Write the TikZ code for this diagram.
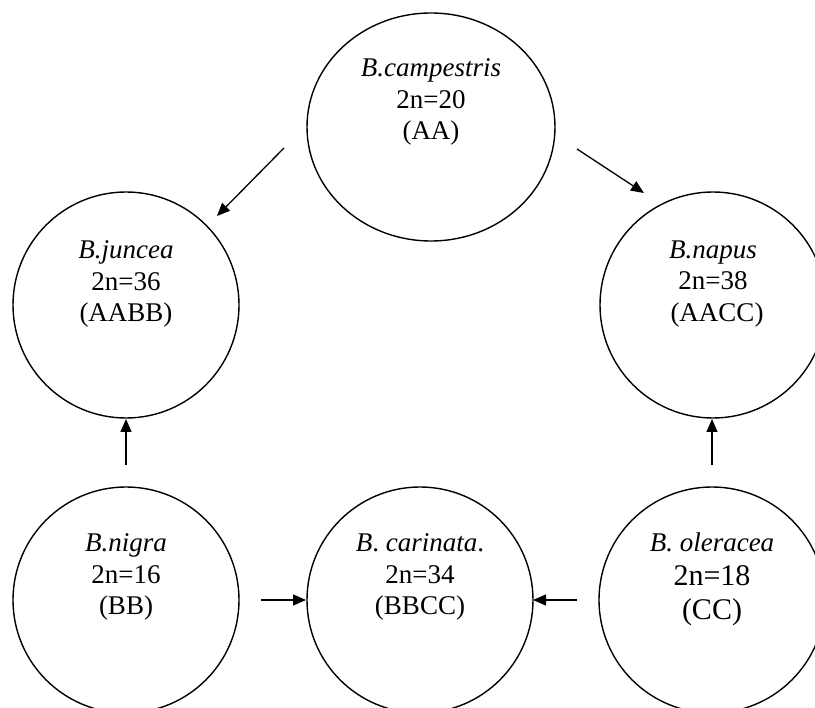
\documentclass[tikz,border=0pt]{standalone}
\usepackage{fontspec}
\setmainfont{Liberation Serif}
\usetikzlibrary{arrows.meta,shapes.geometric}
\begin{document}
\begin{tikzpicture}[x=1pt,y=-1pt,
  org/.style={draw,circle,line width=1.4pt,minimum size=226pt,inner sep=0pt},
  txt/.style={align=center,font=\fontsize{27}{31.5}\selectfont,inner sep=0pt},
  arr/.style={line width=1.3pt,-{Triangle[length=13pt,width=11pt]}}]
\useasboundingbox (0,0) rectangle (815,708);
% nodes
\node[draw,ellipse,line width=1.4pt,minimum width=248pt,minimum height=228pt,inner sep=0pt] (camp) at (431,127) {};
\node[org] (junc) at (126,305) {};
\node[org] (napu) at (713,305) {};
\node[org] (nigr) at (126,600) {};
\node[org] (cari) at (420,600) {};
\node[org] (oler) at (712,600) {};
% texts
\node[txt] (tcamp) at ([yshift=25pt]camp.center) {\textit{B.campestris}\\2n=20\\(AA)};
\node[txt] (tjunc) at ([yshift=21pt]junc.center) {\textit{B.juncea}\\2n=36\\(AABB)};
\node[txt] (tnapu) at ([yshift=21pt]napu.center) {\textit{B.napus}\\2n=38\\\hspace*{8pt}(AACC)};
\node[txt] (tnigr) at ([yshift=23pt]nigr.center) {\textit{B.nigra}\\2n=16\\(BB)};
\node[txt] (tcari) at ([yshift=23pt]cari.center) {\textit{B}. \textit{carinata}.\\2n=34\\(BBCC)};
\node[txt,font=\fontsize{27}{34}\selectfont] (toler) at ([yshift=21pt]oler.center) {\textit{B. oleracea}\\{\fontsize{30}{34}\selectfont 2n=18}\\{\fontsize{30}{34}\selectfont (CC)}};
% arrow end points
\coordinate (a1s) at (284,148); \coordinate (a1e) at (217,216);
\coordinate (a2s) at (577,149); \coordinate (a2e) at (644,193);
\coordinate (a3s) at (126,465); \coordinate (a3e) at (126,419);
\coordinate (a4s) at (712,465); \coordinate (a4e) at (712,419);
\coordinate (a5s) at (261,600); \coordinate (a5e) at (306,600);
\coordinate (a6s) at (577,600); \coordinate (a6e) at (533,600);
\draw[arr] (a1s) -- (a1e);
\draw[arr] (a2s) -- (a2e);
\draw[arr] (a3s) -- (a3e);
\draw[arr] (a4s) -- (a4e);
\draw[arr] (a5s) -- (a5e);
\draw[arr] (a6s) -- (a6e);
\end{tikzpicture}
\end{document}
